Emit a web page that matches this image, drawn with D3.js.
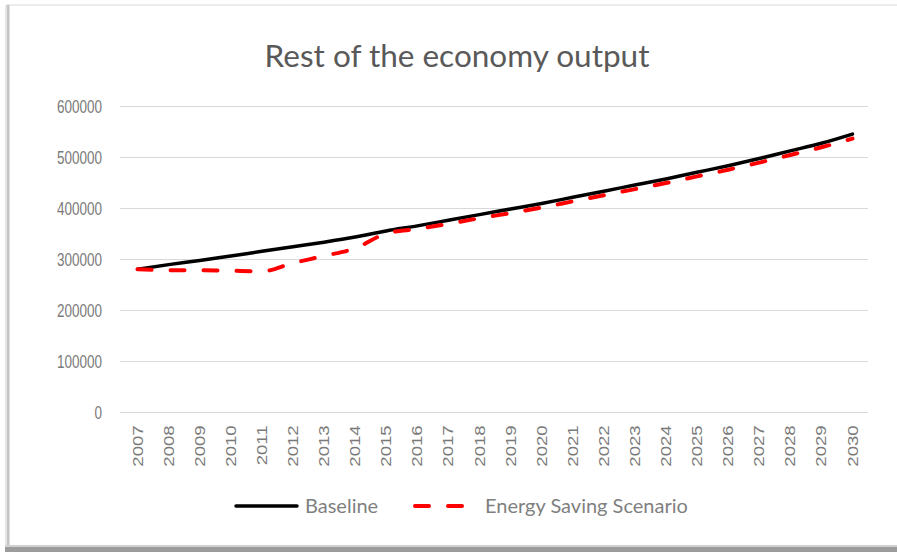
<!DOCTYPE html>
<html>
<head>
<meta charset="utf-8">
<script src="https://cdn.jsdelivr.net/npm/d3@7"></script>
<style>
  html, body { margin: 0; padding: 0; background: #ffffff; }
  svg { display: block; }
</style>
</head>
<body>
<svg id="chart" width="897" height="552"></svg>
<script>
// Output of the rest of the economy, 2007-2030
const years = ["2007","2008","2009","2010","2011","2012","2013","2014","2015","2016","2017","2018",
               "2019","2020","2021","2022","2023","2024","2025","2026","2027","2028","2029","2030"];
const baseline = [280000, 289000, 297000, 306000, 315000, 324000, 333000, 343000, 355000, 365000, 376000, 387000,
                  398000, 409000, 421000, 433000, 445000, 457000, 470000, 483000, 497000, 512000, 527000, 545000];
const energySaving = [280000, 278000, 278000, 277000, 276000, 292000, 306000, 321000, 350000, 359000, 369000, 380000,
                      390000, 401000, 413000, 425000, 437000, 449000, 462000, 475000, 489000, 504000, 519000, 536000];
const yTicks = [0, 100000, 200000, 300000, 400000, 500000, 600000];
const seriesNames = ["Baseline", "Energy Saving Scenario"];

const W = 897, H = 552;
const plot = { left: 122, right: 868, top: 106, bottom: 412 };
const titleFont = "Lato, 'Open Sans', sans-serif";
const tickFont = "'Liberation Sans', Arial, sans-serif";
const tickStretch = 1.33;

const svg = d3.select("#chart");

// Card frame with soft shadow on the left and bottom edges
svg.append("rect").attr("x", 0).attr("y", 0).attr("width", W).attr("height", H).attr("fill", "#ffffff");
svg.append("rect").attr("x", 6).attr("y", 4).attr("width", W - 6).attr("height", 2).attr("fill", "#ececec");
svg.append("rect").attr("x", 5).attr("y", 5).attr("width", 2).attr("height", H - 5).attr("fill", "#e6e6e6");
svg.append("rect").attr("x", 7).attr("y", 5).attr("width", 2).attr("height", H - 5).attr("fill", "#c4c4c4");
svg.append("rect").attr("x", 9).attr("y", 5).attr("width", 1).attr("height", H - 5).attr("fill", "#dedede");
svg.append("rect").attr("x", 5).attr("y", 545).attr("width", W - 5).attr("height", 2).attr("fill", "#d0d0d0");
svg.append("rect").attr("x", 5).attr("y", 547).attr("width", W - 5).attr("height", 5).attr("fill", "#9c9c9c");

const x = d3.scaleBand().domain(years).range([plot.left, plot.right]).padding(0);
const cx = d => x(d) + x.bandwidth() / 2;
const y = d3.scaleLinear().domain([0, 600000]).range([plot.bottom, plot.top]);

// Title
svg.append("text")
  .attr("x", 457).attr("y", 67)
  .attr("text-anchor", "middle")
  .attr("font-family", titleFont)
  .attr("font-size", 31.5)
  .attr("fill", "#595959")
  .text("Rest of the economy output");

// Horizontal gridlines and y labels (labels drawn slightly tall)
const yAxis = svg.append("g")
  .attr("transform", `translate(${plot.left - 2},0)`)
  .call(d3.axisLeft(y).tickValues(yTicks).tickSize(-(plot.right - plot.left + 2)).tickPadding(18).tickFormat(d3.format("d")));
yAxis.select(".domain").remove();
yAxis.selectAll(".tick line").attr("stroke", "#d9d9d9").attr("stroke-width", 1);
yAxis.selectAll(".tick text")
  .attr("font-family", tickFont)
  .attr("font-size", 13.5)
  .attr("fill", "#7a7a7a")
  .attr("transform", `scale(1,${tickStretch})`)
  .attr("dy", "0.36em");

// Category labels, rotated and lengthened along the reading direction
const xAxis = svg.append("g")
  .attr("transform", `translate(0,${plot.bottom})`)
  .call(d3.axisBottom(x).tickSize(0).tickPadding(0));
xAxis.select(".domain").remove();
xAxis.selectAll(".tick text")
  .attr("font-family", tickFont)
  .attr("font-size", 14)
  .attr("fill", "#7a7a7a")
  .attr("text-anchor", "end")
  .attr("transform", `scale(1,${tickStretch}) rotate(-90)`)
  .attr("x", -10)
  .attr("y", 0)
  .attr("dy", "0.36em");

// Series lines
const line = d3.line().x((d, i) => cx(years[i])).y(d => y(d)).curve(d3.curveMonotoneX);

svg.append("path")
  .datum(baseline)
  .attr("d", line)
  .attr("fill", "none")
  .attr("stroke", "#000000")
  .attr("stroke-width", 3.5)
  .attr("stroke-linejoin", "round")
  .attr("stroke-linecap", "round");

svg.append("path")
  .datum(energySaving)
  .attr("d", line)
  .attr("fill", "none")
  .attr("stroke", "#ff0000")
  .attr("stroke-width", 4)
  .attr("stroke-dasharray", "14,19")
  .attr("stroke-linecap", "round");

// Legend
const legend = svg.append("g");
legend.append("line")
  .attr("x1", 236).attr("x2", 297).attr("y1", 506).attr("y2", 506)
  .attr("stroke", "#000000").attr("stroke-width", 3.5).attr("stroke-linecap", "round");
legend.append("text")
  .attr("x", 305).attr("y", 513)
  .attr("font-family", titleFont)
  .attr("font-size", 20)
  .attr("fill", "#7f7f7f")
  .text(seriesNames[0]);
legend.append("line")
  .attr("x1", 415).attr("x2", 462).attr("y1", 506).attr("y2", 506)
  .attr("stroke", "#ff0000").attr("stroke-width", 4)
  .attr("stroke-dasharray", "14,19").attr("stroke-linecap", "round");
legend.append("text")
  .attr("x", 485).attr("y", 513)
  .attr("font-family", titleFont)
  .attr("font-size", 20)
  .attr("fill", "#7f7f7f")
  .text(seriesNames[1]);
</script>
</body>
</html>
